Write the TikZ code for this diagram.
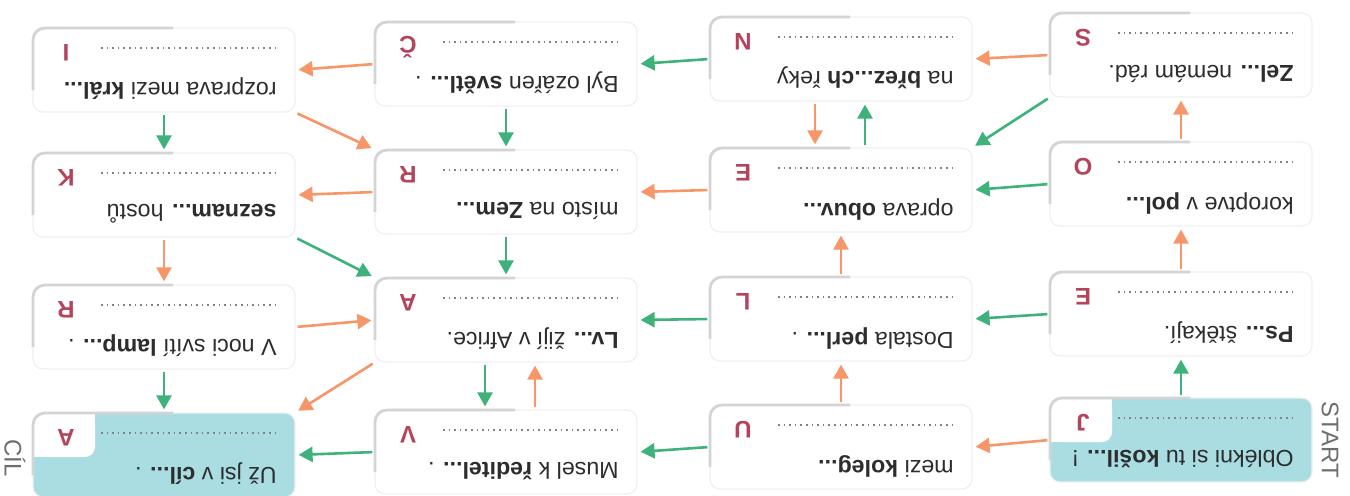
\documentclass[tikz,border=0pt]{standalone}
\usepackage{fontspec}
\setmainfont{Liberation Sans}
\usetikzlibrary{arrows.meta}
\definecolor{tealc}{RGB}{170,221,226}
\definecolor{garr}{RGB}{62,178,122}
\definecolor{oarr}{RGB}{246,150,105}
\definecolor{lett}{RGB}{180,68,92}
\definecolor{edgec}{RGB}{212,212,212}
\definecolor{faint}{RGB}{240,240,240}
\definecolor{txtc}{RGB}{45,45,45}
\definecolor{sidec}{RGB}{110,110,110}
\definecolor{dotc}{RGB}{130,130,130}

\newcommand\mycard[6]{%
\begin{scope}[shift={(#2,#3)}]
\node[cardbody,fill=#6] (#1) at (131,42) {};
\fill[white,rounded corners=5pt] (0,0) rectangle (62,44);
\fill[white] (40,0) rectangle (62,20);
\fill[white] (0,24) rectangle (20,44);
\draw[cardedge] (0,62) -- (0,0) -- (140,0);
\draw[dotline] (68,20) -- (244,20);
\node[lettr] (#1l) at (33,25) {#4};
\node[cardtxt] (#1t) at (244,61) {#5};
\end{scope}}

\begin{document}
\begin{tikzpicture}[x=0.5pt,y=-0.5pt,
 cardbody/.style={rectangle, rounded corners=5pt, draw=faint, line width=0.6pt, minimum width=131pt, minimum height=42pt, inner sep=0pt},
 cardedge/.style={draw=edgec, line width=1.4pt, rounded corners=6pt},
 dotline/.style={draw=dotc, line width=0.8pt, dash pattern=on 0.8pt off 2pt},
 lettr/.style={text=lett, font=\fontsize{12}{12}\selectfont\bfseries, rotate=180, inner sep=0pt},
 cardtxt/.style={text=txtc, font=\fontsize{11.6}{13}\selectfont, rotate=180, anchor=west, inner sep=0pt},
 arr/.style={line width=1.3pt, -{Triangle[length=7pt,width=7.5pt]}, shorten <=1pt, shorten >=1.5pt},
 garrow/.style={arr, draw=garr},
 oarrow/.style={arr, draw=oarr},
 sidelbl/.style={text=sidec, font=\fontsize{12}{12}\selectfont, rotate=-90}
]
\useasboundingbox (0,0) rectangle (1350,495);
\fill[white] (0,0) rectangle (1350,495);

% column 1
\mycard{I}{33}{28}{I}{rozprava mezi \textbf{král...}}{white}
\mycard{K}{33}{153}{K}{\textbf{seznam...} hostů}{white}
\mycard{R3}{33}{285}{R}{V noci svítí \textbf{lamp...} .}{white}
\mycard{Acil}{33}{413}{A}{Už jsi v \textbf{cíl...} .}{tealc}
% column 2
\mycard{Cc}{375}{22}{Č}{Byl ozářen \textbf{světl...} .}{white}
\mycard{R2}{375}{150}{R}{místo na \textbf{Zem...}}{white}
\mycard{A2}{375}{278}{A}{\textbf{Lv...} žijí v Africe.}{white}
\mycard{V}{375}{410}{V}{Musel k \textbf{ředitel...} .}{white}
% column 3
\mycard{N}{710}{17}{N}{na \textbf{břez...ch} řeky}{white}
\mycard{E3}{710}{148}{E}{oprava \textbf{obuv...}}{white}
\mycard{L}{710}{277}{L}{Dostala \textbf{perl...} .}{white}
\mycard{U}{710}{405}{U}{mezi \textbf{koleg...}}{white}
% column 4
\mycard{S}{1050}{13}{S}{\textbf{Zel...} nemám rád.}{white}
\mycard{O}{1050}{142}{O}{koroptve v \textbf{pol...}}{white}
\mycard{E4}{1050}{272}{E}{\textbf{Ps...} štěkají.}{white}
\mycard{J}{1050}{398}{J}{Oblékni si tu \textbf{košil...} !}{tealc}

\node[sidelbl] (start) at (1330,440) {START};
\node[sidelbl] (cil) at (15,458) {CÍL};

% horizontal
\draw[oarrow] (S.west) -- (N.east);
\draw[garrow] (N.west) -- (Cc.east);
\draw[oarrow] (Cc.west) -- (I.east);
\draw[garrow] (O.west) -- (E3.east);
\draw[oarrow] (E3.west) -- (R2.east);
\draw[oarrow] (R2.west) -- (K.east);
\draw[garrow] (E4.west) -- (L.east);
\draw[garrow] (L.west) -- (A2.east);
\draw[oarrow] (R3.east) -- (A2.west);
\draw[oarrow] (J.west) -- (U.east);
\draw[garrow] (U.west) -- (V.east);
\draw[garrow] (V.west) -- (Acil.east);
% vertical
\draw[garrow] (I.south) -- (K.north);
\draw[oarrow] (K.south) -- (R3.north);
\draw[garrow] (R3.south) -- (Acil.north);
\draw[garrow] (Cc.south) -- (R2.north);
\draw[garrow] (R2.south) -- (A2.north);
\draw[garrow] ([xshift=-10.5pt]A2.south) -- ([xshift=-10.5pt]V.north);
\draw[oarrow] ([xshift=14.5pt]V.north) -- ([xshift=14.5pt]A2.south);
\draw[oarrow] ([xshift=-13pt]N.south) -- ([xshift=-13pt]E3.north);
\draw[garrow] ([xshift=12pt]E3.north) -- ([xshift=12pt]N.south);
\draw[oarrow] (L.north) -- (E3.south);
\draw[oarrow] (U.north) -- (L.south);
\draw[garrow] (J.north) -- (E4.south);
\draw[oarrow] (E4.north) -- (O.south);
\draw[oarrow] (O.north) -- (S.south);
% diagonal
\draw[garrow] (S.south west) -- (E3.north east);
\draw[oarrow] (I.south east) -- (R2.north west);
\draw[garrow] (K.south east) -- (A2.north west);
\draw[oarrow] (A2.south west) -- (Acil.north east);
\end{tikzpicture}
\end{document}
